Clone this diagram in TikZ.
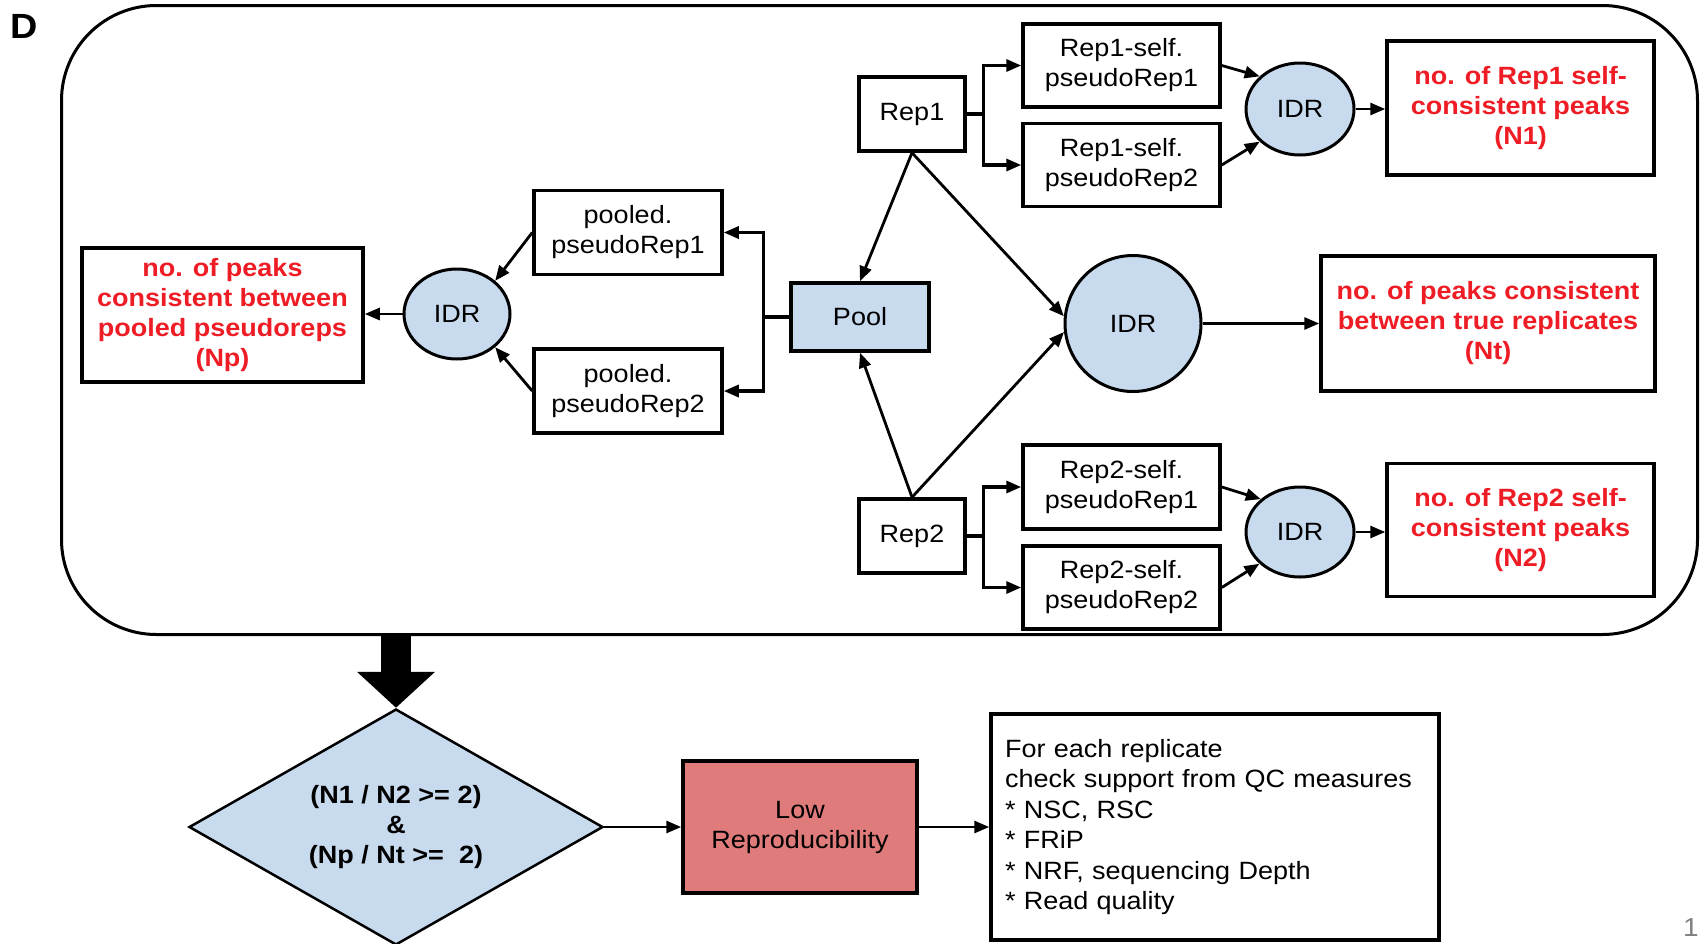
\documentclass[tikz,border=0pt]{standalone}
\usepackage{fontspec}
\setmainfont{Liberation Sans}[FakeStretch=1.08]
\usetikzlibrary{shapes.geometric,arrows.meta,calc}
\definecolor{boxblue}{RGB}{200,218,238}
\definecolor{txtred}{RGB}{238,28,36}
\definecolor{lowred}{RGB}{224,123,123}
\newcommand{\mysz}{\fontsize{25}{30}\selectfont}
\begin{document}
\begin{tikzpicture}[x=1pt,y=-1pt,
  box/.style={draw, line width=3.5pt, inner sep=0pt, align=center, font=\mysz},
  res/.style={box, text=txtred, font=\mysz\bfseries},
  idr/.style={ellipse, draw, line width=3pt, fill=boxblue, inner sep=0pt, font=\mysz},
  arr/.style={line width=2.8pt, -{Triangle[length=15pt,width=12pt]}},
  ln/.style={line width=3.2pt}
]
\useasboundingbox (0,0) rectangle (1704,943);

\node[font=\fontsize{35}{40}\selectfont\bfseries, inner sep=0pt] (lab) at (24,26) {D};

\node[draw, line width=3pt, rounded corners=95pt, minimum width=1636pt, minimum height=629pt, inner sep=0pt] (frame) at (879.5,320) {};

% left part
\node[res, minimum width=281pt, minimum height=134pt] (Np) at (222.5,315) {no. of peaks\\consistent between\\pooled pseudoreps\\(Np)};
\node[idr, minimum width=106pt, minimum height=90pt] (idrP) at (457,314) {IDR};
\node[box, minimum width=188pt, minimum height=84pt] (pp1) at (628,232.5) {pooled.\\pseudoRep1};
\node[box, minimum width=188pt, minimum height=84pt] (pp2) at (628,391) {pooled.\\pseudoRep2};
\node[box, fill=boxblue, minimum width=138pt, minimum height=68pt] (pool) at (860,317) {Pool};

% Rep1 branch
\node[box, minimum width=106pt, minimum height=74pt] (rep1) at (912,114) {Rep1};
\node[box, minimum width=197pt, minimum height=83pt] (r1a) at (1121.5,65.5) {Rep1-self.\\pseudoRep1};
\node[box, minimum width=197pt, minimum height=83pt] (r1b) at (1121.5,165) {Rep1-self.\\pseudoRep2};
\node[idr, minimum width=108pt, minimum height=92pt] (idr1) at (1300,109) {IDR};
\node[res, minimum width=267pt, minimum height=134pt] (N1) at (1520.5,108) {no. of Rep1 self-\\consistent peaks\\(N1)};

% true replicates
\node[idr, circle, minimum size=136pt] (idrT) at (1133,323.5) {IDR};
\node[res, minimum width=334pt, minimum height=135pt] (Nt) at (1488,323.5) {no. of peaks consistent\\between true replicates\\(Nt)};

% Rep2 branch
\node[box, minimum width=106pt, minimum height=74pt] (rep2) at (912,536) {Rep2};
\node[box, minimum width=197pt, minimum height=84pt] (r2a) at (1121.5,487) {Rep2-self.\\pseudoRep1};
\node[box, minimum width=197pt, minimum height=83pt] (r2b) at (1121.5,587.5) {Rep2-self.\\pseudoRep2};
\node[idr, minimum width=108pt, minimum height=90pt] (idr2) at (1300,532) {IDR};
\node[res, minimum width=267pt, minimum height=133pt] (N2) at (1520.5,530) {no. of Rep2 self-\\consistent peaks\\(N2)};

% bottom
\node[diamond, aspect=1.74, draw, line width=2.5pt, fill=boxblue, minimum width=414pt, minimum height=236pt, inner sep=0pt, align=center, font=\mysz\bfseries] (dia) at (396,827) {(N1 / N2 >= 2)\\\&\\(Np / Nt >=\ \ 2)};
\node[box, fill=lowred, minimum width=234pt, minimum height=132pt] (low) at (800,827) {Low\\Reproducibility};
\node[box, align=left, text width=420pt, minimum height=226pt, inner xsep=14pt, font=\fontsize{25}{30.5}\selectfont] (qc) at (1215,827) {For each replicate\\check support from QC measures\\{}* NSC, RSC\\{}* FRiP\\{}* NRF, sequencing Depth\\{}* Read quality};
\node[text=gray, font=\fontsize{26}{28}\selectfont, anchor=south east, inner sep=1pt] (pg) at (1700,938) {1};

% connectors: Rep1
\draw[arr, ln] (rep1.east) -- ++(17,0) |- (r1a.west);
\draw[arr, ln] (rep1.east) -- ++(17,0) |- (r1b.west);
\draw[arr] (r1a.east) -- (idr1.141);
\draw[arr] (r1b.east) -- (idr1.219);
\draw[arr] (idr1.east) -- (N1.west |- idr1.east);

% Rep2
\draw[arr, ln] (rep2.east) -- ++(17,0) |- (r2a.west);
\draw[arr, ln] (rep2.east) -- ++(17,0) |- (r2b.west);
\draw[arr] (r2a.east) -- (idr2.140);
\draw[arr] (r2b.east) -- (idr2.218);
\draw[arr] (idr2.east) -- (N2.west |- idr2.east);

% to pool and true IDR
\draw[arr] (rep1.south) -- (pool.north);
\draw[arr] (rep1.south) -- (idrT.174);
\draw[arr] (rep2.north) -- (pool.south);
\draw[arr] (rep2.north) -- (idrT.187);
\draw[arr] (idrT.east) -- (Nt.west |- idrT.east);

% pool fork
\draw[arr, ln] (pool.west) -- ++(-26,0) |- (pp1.east);
\draw[arr, ln] (pool.west) -- ++(-26,0) |- (pp2.east);
\draw[arr] (pp1.west) -- (idrP.41);
\draw[arr] (pp2.west) -- (idrP.319);
\draw[arr] (idrP.west) -- (Np.east |- idrP.west);

% bottom flow
\draw[line width=30pt, -{Triangle[length=36pt,width=76pt]}] (frame.south -| dia.north) -- (dia.north);
\draw[arr] (dia.east) -- (low.west);
\draw[arr] (low.east) -- (qc.west |- low.east);
\end{tikzpicture}
\end{document}
